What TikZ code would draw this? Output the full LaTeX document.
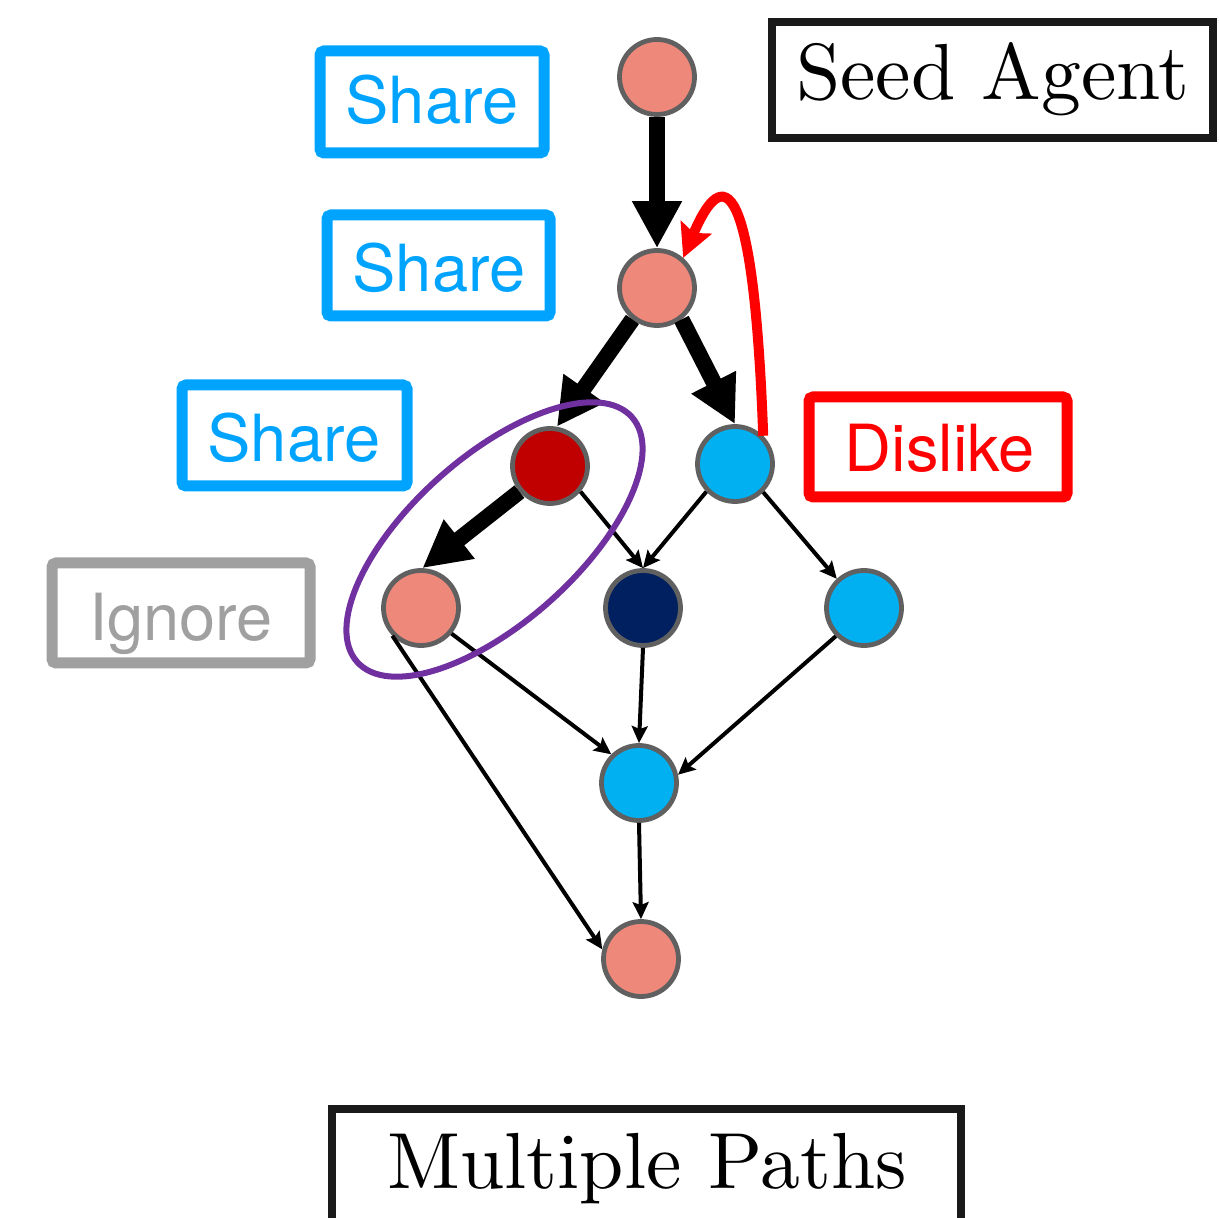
\documentclass[tikz,border=0pt]{standalone}
\usepackage{fontspec}
\newfontfamily\labelfont{TeX Gyre Heros}
\newfontfamily\titlefont{lmroman10-regular}[Extension=.otf]
\usetikzlibrary{arrows.meta}

\definecolor{salmon}{RGB}{238,136,122}
\definecolor{deepred}{RGB}{192,0,0}
\definecolor{skyblue}{RGB}{0,176,240}
\definecolor{navyblue}{RGB}{0,32,96}
\definecolor{ringgray}{RGB}{96,96,96}
\definecolor{sharecol}{RGB}{0,164,255}
\definecolor{dislikecol}{RGB}{255,0,0}
\definecolor{ignorecol}{RGB}{160,160,160}
\definecolor{boxblack}{RGB}{26,26,26}
\definecolor{groupcol}{RGB}{112,48,160}

\begin{document}
\begin{tikzpicture}[x=0.5pt,y=-0.5pt,
  agent/.style={circle,draw=ringgray,line width=2.4pt,minimum size=37.5pt,inner sep=0pt},
  tagbox/.style={draw,rounded corners=2pt,line width=5.5pt,inner sep=0pt},
  tagtext/.style={anchor=base,inner sep=0pt,font=\labelfont\fontsize{32.5}{38}\selectfont},
  titlebox/.style={draw=boxblack,line width=4pt,inner sep=0pt},
  titletext/.style={anchor=base,inner sep=0pt,font=\titlefont\fontsize{39.8}{47}\selectfont},
  strong/.style={line width=8pt,-{Triangle[length=23.5pt,width=23.5pt]}},
  weak/.style={line width=2pt,-{Stealth[length=8.5pt,width=8pt,inset=1.5pt]}},
  react/.style={draw=dislikecol,line width=5pt,-{Stealth[length=16.5pt,width=16.5pt,inset=3pt]}}
]
\useasboundingbox (0,0) rectangle (1220,1218);
\clip (0,0) rectangle (1220,1218);

% agents
\node[agent,fill=salmon]   (n1) at (657,77)  {};
\node[agent,fill=salmon]   (n2) at (657,288) {};
\node[agent,fill=deepred]  (n3) at (550,466) {};
\node[agent,fill=skyblue]  (n4) at (735,464) {};
\node[agent,fill=salmon]   (n5) at (421,608) {};
\node[agent,fill=navyblue] (n6) at (643,608) {};
\node[agent,fill=skyblue]  (n7) at (864,608) {};
\node[agent,fill=skyblue]  (n8) at (639,783) {};
\node[agent,fill=salmon]   (n9) at (641,959) {};

% main propagation path
\draw[strong] (n1.south) -- (n2.north);
\draw[strong] (n2.-128) -- (n3.80);
\draw[strong] (n2.-52) -- (n4.north);
\draw[strong] (n3.-140) -- (n5.88);

% secondary spread
\draw[weak] (n3.-40) -- (n6.north);
\draw[weak] (n4.-136) -- (n6.north);
\draw[weak] (n4.-45) -- (n7.133);
\draw[weak] (n5.-40) -- (n8.134);
\draw[weak] (n6.south) -- (n8.north);
\draw[weak] (n7.-135) -- (n8.12);
\draw[weak] (n8.south) -- (n9.north);
\draw[weak] (n5.-136) -- (n9.166);

% negative feedback
\draw[react] (n4.45) .. controls (752,125) and (712,190) .. (n2.49);

% highlighted pair
\draw[groupcol,line width=3pt,rotate around={41.7:(494.5,539.5)}]
  (494.5,539.5) ellipse [x radius=92pt,y radius=41.5pt];

% action tags
\node[tagbox,draw=sharecol,minimum width=112pt,minimum height=51pt] (share1) at (432,102) {};
\node[tagtext,text=sharecol] (share1t) at (432,124) {Share};
\node[tagbox,draw=sharecol,minimum width=111.5pt,minimum height=50.5pt] (share2) at (438.5,265.5) {};
\node[tagtext,text=sharecol] (share2t) at (439,292) {Share};
\node[tagbox,draw=sharecol,minimum width=112.5pt,minimum height=50.5pt] (share3) at (294.5,435.5) {};
\node[tagtext,text=sharecol] (share3t) at (294,462) {Share};
\node[tagbox,draw=ignorecol,minimum width=129pt,minimum height=50pt] (ignore) at (181,613) {};
\node[tagtext,text=ignorecol] (ignoret) at (181,640) {Ignore};
\node[tagbox,draw=dislikecol,minimum width=129pt,minimum height=50pt] (dislike) at (938,447) {};
\node[tagtext,text=dislikecol] (disliket) at (940,472) {Dislike};

% titles
\node[titlebox,minimum width=220.5pt,minimum height=58pt] (seed) at (992.5,80) {};
\node[titletext] (seedt) at (993,100) {Seed Agent};
\node[titlebox,minimum width=314.5pt,minimum height=66pt] (paths) at (646.5,1175) {};
\node[titletext] (pathst) at (647,1188) {Multiple Paths};
\end{tikzpicture}
\end{document}
